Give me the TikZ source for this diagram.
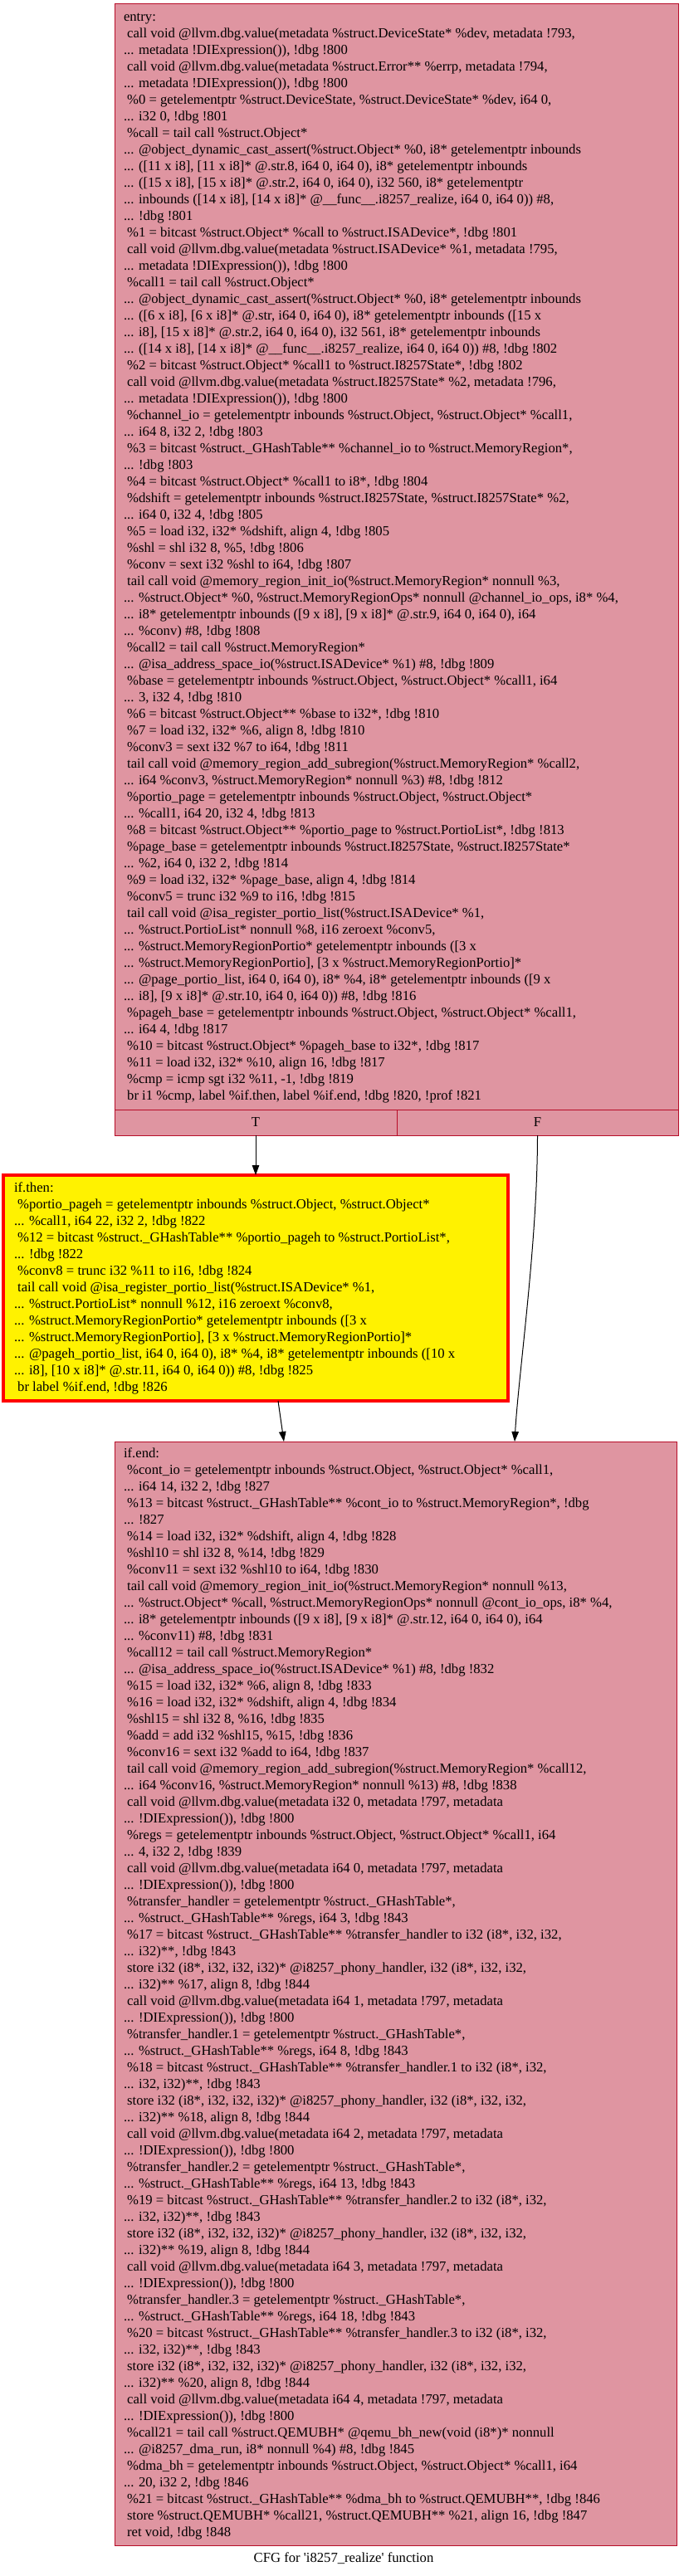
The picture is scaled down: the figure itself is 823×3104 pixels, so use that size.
\documentclass[tikz,border=0pt]{standalone}
\usepackage{fontspec}
\setmainfont{Liberation Serif}[Ligatures=TeXOff]
\usetikzlibrary{arrows.meta}
\definecolor{blkfill}{HTML}{DF95A1}
\definecolor{blkline}{HTML}{B70D28}
\newcommand\blocktext[2]{\makebox[#1][l]{\begin{tabular}{@{}l@{}}#2\end{tabular}}}
\tikzset{
  codefont/.style={font=\fontsize{16.67}{20}\selectfont},
  blk/.style={draw=blkline, fill=blkfill, line width=1pt, anchor=north west,
    inner sep=0pt, outer sep=0pt, codefont},
  thenblk/.style={draw=red, fill=yellow, line width=3.5pt, anchor=north west,
    inner sep=0pt, outer sep=0pt, codefont},
  cell/.style={draw=blkline, fill=blkfill, line width=1pt, anchor=north west,
    inner sep=0pt, outer sep=0pt, minimum height=31pt, codefont},
  edge/.style={draw=black, line width=1pt, -{Triangle[length=12pt,width=8.5pt]}},
}
\begin{document}
\begin{tikzpicture}[x=1pt,y=1pt]
\useasboundingbox (0,0) rectangle (823,-3104);
\node[blk, minimum width=679pt, minimum height=1332pt] (entry) at (138,-5) {\blocktext{657pt}{%
entry:\\
\ call void @llvm.dbg.value(metadata \%struct.DeviceState* \%dev, metadata !793,\\
... metadata !DIExpression()), !dbg !800\\
\ call void @llvm.dbg.value(metadata \%struct.Error** \%errp, metadata !794,\\
... metadata !DIExpression()), !dbg !800\\
\ \%0 = getelementptr \%struct.DeviceState, \%struct.DeviceState* \%dev, i64 0,\\
... i32 0, !dbg !801\\
\ \%call = tail call \%struct.Object*\\
... @object\_dynamic\_cast\_assert(\%struct.Object* \%0, i8* getelementptr inbounds\\
... ([11 x i8], [11 x i8]* @.str.8, i64 0, i64 0), i8* getelementptr inbounds\\
... ([15 x i8], [15 x i8]* @.str.2, i64 0, i64 0), i32 560, i8* getelementptr\\
... inbounds ([14 x i8], [14 x i8]* @\_\_func\_\_.i8257\_realize, i64 0, i64 0)) \#8,\\
... !dbg !801\\
\ \%1 = bitcast \%struct.Object* \%call to \%struct.ISADevice*, !dbg !801\\
\ call void @llvm.dbg.value(metadata \%struct.ISADevice* \%1, metadata !795,\\
... metadata !DIExpression()), !dbg !800\\
\ \%call1 = tail call \%struct.Object*\\
... @object\_dynamic\_cast\_assert(\%struct.Object* \%0, i8* getelementptr inbounds\\
... ([6 x i8], [6 x i8]* @.str, i64 0, i64 0), i8* getelementptr inbounds ([15 x\\
... i8], [15 x i8]* @.str.2, i64 0, i64 0), i32 561, i8* getelementptr inbounds\\
... ([14 x i8], [14 x i8]* @\_\_func\_\_.i8257\_realize, i64 0, i64 0)) \#8, !dbg !802\\
\ \%2 = bitcast \%struct.Object* \%call1 to \%struct.I8257State*, !dbg !802\\
\ call void @llvm.dbg.value(metadata \%struct.I8257State* \%2, metadata !796,\\
... metadata !DIExpression()), !dbg !800\\
\ \%channel\_io = getelementptr inbounds \%struct.Object, \%struct.Object* \%call1,\\
... i64 8, i32 2, !dbg !803\\
\ \%3 = bitcast \%struct.\_GHashTable** \%channel\_io to \%struct.MemoryRegion*,\\
... !dbg !803\\
\ \%4 = bitcast \%struct.Object* \%call1 to i8*, !dbg !804\\
\ \%dshift = getelementptr inbounds \%struct.I8257State, \%struct.I8257State* \%2,\\
... i64 0, i32 4, !dbg !805\\
\ \%5 = load i32, i32* \%dshift, align 4, !dbg !805\\
\ \%shl = shl i32 8, \%5, !dbg !806\\
\ \%conv = sext i32 \%shl to i64, !dbg !807\\
\ tail call void @memory\_region\_init\_io(\%struct.MemoryRegion* nonnull \%3,\\
... \%struct.Object* \%0, \%struct.MemoryRegionOps* nonnull @channel\_io\_ops, i8* \%4,\\
... i8* getelementptr inbounds ([9 x i8], [9 x i8]* @.str.9, i64 0, i64 0), i64\\
... \%conv) \#8, !dbg !808\\
\ \%call2 = tail call \%struct.MemoryRegion*\\
... @isa\_address\_space\_io(\%struct.ISADevice* \%1) \#8, !dbg !809\\
\ \%base = getelementptr inbounds \%struct.Object, \%struct.Object* \%call1, i64\\
... 3, i32 4, !dbg !810\\
\ \%6 = bitcast \%struct.Object** \%base to i32*, !dbg !810\\
\ \%7 = load i32, i32* \%6, align 8, !dbg !810\\
\ \%conv3 = sext i32 \%7 to i64, !dbg !811\\
\ tail call void @memory\_region\_add\_subregion(\%struct.MemoryRegion* \%call2,\\
... i64 \%conv3, \%struct.MemoryRegion* nonnull \%3) \#8, !dbg !812\\
\ \%portio\_page = getelementptr inbounds \%struct.Object, \%struct.Object*\\
... \%call1, i64 20, i32 4, !dbg !813\\
\ \%8 = bitcast \%struct.Object** \%portio\_page to \%struct.PortioList*, !dbg !813\\
\ \%page\_base = getelementptr inbounds \%struct.I8257State, \%struct.I8257State*\\
... \%2, i64 0, i32 2, !dbg !814\\
\ \%9 = load i32, i32* \%page\_base, align 4, !dbg !814\\
\ \%conv5 = trunc i32 \%9 to i16, !dbg !815\\
\ tail call void @isa\_register\_portio\_list(\%struct.ISADevice* \%1,\\
... \%struct.PortioList* nonnull \%8, i16 zeroext \%conv5,\\
... \%struct.MemoryRegionPortio* getelementptr inbounds ([3 x\\
... \%struct.MemoryRegionPortio], [3 x \%struct.MemoryRegionPortio]*\\
... @page\_portio\_list, i64 0, i64 0), i8* \%4, i8* getelementptr inbounds ([9 x\\
... i8], [9 x i8]* @.str.10, i64 0, i64 0)) \#8, !dbg !816\\
\ \%pageh\_base = getelementptr inbounds \%struct.Object, \%struct.Object* \%call1,\\
... i64 4, !dbg !817\\
\ \%10 = bitcast \%struct.Object* \%pageh\_base to i32*, !dbg !817\\
\ \%11 = load i32, i32* \%10, align 16, !dbg !817\\
\ \%cmp = icmp sgt i32 \%11, -1, !dbg !819\\
\ br i1 \%cmp, label \%if.then, label \%if.end, !dbg !820, !prof !821}};
\node[cell, minimum width=340pt] (T) at (138,-1337) {T};
\node[cell, minimum width=339pt] (F) at (478,-1337) {F};
\node[thenblk, minimum width=608pt, minimum height=272pt] (ifthen) at (4,-1416) {\blocktext{582pt}{%
if.then:\\
\ \%portio\_pageh = getelementptr inbounds \%struct.Object, \%struct.Object*\\
... \%call1, i64 22, i32 2, !dbg !822\\
\ \%12 = bitcast \%struct.\_GHashTable** \%portio\_pageh to \%struct.PortioList*,\\
... !dbg !822\\
\ \%conv8 = trunc i32 \%11 to i16, !dbg !824\\
\ tail call void @isa\_register\_portio\_list(\%struct.ISADevice* \%1,\\
... \%struct.PortioList* nonnull \%12, i16 zeroext \%conv8,\\
... \%struct.MemoryRegionPortio* getelementptr inbounds ([3 x\\
... \%struct.MemoryRegionPortio], [3 x \%struct.MemoryRegionPortio]*\\
... @pageh\_portio\_list, i64 0, i64 0), i8* \%4, i8* getelementptr inbounds ([10 x\\
... i8], [10 x i8]* @.str.11, i64 0, i64 0)) \#8, !dbg !825\\
\ br label \%if.end, !dbg !826}};
\node[blk, minimum width=677pt, minimum height=1330pt] (ifend) at (138,-1737) {\blocktext{655pt}{%
if.end:\\
\ \%cont\_io = getelementptr inbounds \%struct.Object, \%struct.Object* \%call1,\\
... i64 14, i32 2, !dbg !827\\
\ \%13 = bitcast \%struct.\_GHashTable** \%cont\_io to \%struct.MemoryRegion*, !dbg\\
... !827\\
\ \%14 = load i32, i32* \%dshift, align 4, !dbg !828\\
\ \%shl10 = shl i32 8, \%14, !dbg !829\\
\ \%conv11 = sext i32 \%shl10 to i64, !dbg !830\\
\ tail call void @memory\_region\_init\_io(\%struct.MemoryRegion* nonnull \%13,\\
... \%struct.Object* \%call, \%struct.MemoryRegionOps* nonnull @cont\_io\_ops, i8* \%4,\\
... i8* getelementptr inbounds ([9 x i8], [9 x i8]* @.str.12, i64 0, i64 0), i64\\
... \%conv11) \#8, !dbg !831\\
\ \%call12 = tail call \%struct.MemoryRegion*\\
... @isa\_address\_space\_io(\%struct.ISADevice* \%1) \#8, !dbg !832\\
\ \%15 = load i32, i32* \%6, align 8, !dbg !833\\
\ \%16 = load i32, i32* \%dshift, align 4, !dbg !834\\
\ \%shl15 = shl i32 8, \%16, !dbg !835\\
\ \%add = add i32 \%shl15, \%15, !dbg !836\\
\ \%conv16 = sext i32 \%add to i64, !dbg !837\\
\ tail call void @memory\_region\_add\_subregion(\%struct.MemoryRegion* \%call12,\\
... i64 \%conv16, \%struct.MemoryRegion* nonnull \%13) \#8, !dbg !838\\
\ call void @llvm.dbg.value(metadata i32 0, metadata !797, metadata\\
... !DIExpression()), !dbg !800\\
\ \%regs = getelementptr inbounds \%struct.Object, \%struct.Object* \%call1, i64\\
... 4, i32 2, !dbg !839\\
\ call void @llvm.dbg.value(metadata i64 0, metadata !797, metadata\\
... !DIExpression()), !dbg !800\\
\ \%transfer\_handler = getelementptr \%struct.\_GHashTable*,\\
... \%struct.\_GHashTable** \%regs, i64 3, !dbg !843\\
\ \%17 = bitcast \%struct.\_GHashTable** \%transfer\_handler to i32 (i8*, i32, i32,\\
... i32)**, !dbg !843\\
\ store i32 (i8*, i32, i32, i32)* @i8257\_phony\_handler, i32 (i8*, i32, i32,\\
... i32)** \%17, align 8, !dbg !844\\
\ call void @llvm.dbg.value(metadata i64 1, metadata !797, metadata\\
... !DIExpression()), !dbg !800\\
\ \%transfer\_handler.1 = getelementptr \%struct.\_GHashTable*,\\
... \%struct.\_GHashTable** \%regs, i64 8, !dbg !843\\
\ \%18 = bitcast \%struct.\_GHashTable** \%transfer\_handler.1 to i32 (i8*, i32,\\
... i32, i32)**, !dbg !843\\
\ store i32 (i8*, i32, i32, i32)* @i8257\_phony\_handler, i32 (i8*, i32, i32,\\
... i32)** \%18, align 8, !dbg !844\\
\ call void @llvm.dbg.value(metadata i64 2, metadata !797, metadata\\
... !DIExpression()), !dbg !800\\
\ \%transfer\_handler.2 = getelementptr \%struct.\_GHashTable*,\\
... \%struct.\_GHashTable** \%regs, i64 13, !dbg !843\\
\ \%19 = bitcast \%struct.\_GHashTable** \%transfer\_handler.2 to i32 (i8*, i32,\\
... i32, i32)**, !dbg !843\\
\ store i32 (i8*, i32, i32, i32)* @i8257\_phony\_handler, i32 (i8*, i32, i32,\\
... i32)** \%19, align 8, !dbg !844\\
\ call void @llvm.dbg.value(metadata i64 3, metadata !797, metadata\\
... !DIExpression()), !dbg !800\\
\ \%transfer\_handler.3 = getelementptr \%struct.\_GHashTable*,\\
... \%struct.\_GHashTable** \%regs, i64 18, !dbg !843\\
\ \%20 = bitcast \%struct.\_GHashTable** \%transfer\_handler.3 to i32 (i8*, i32,\\
... i32, i32)**, !dbg !843\\
\ store i32 (i8*, i32, i32, i32)* @i8257\_phony\_handler, i32 (i8*, i32, i32,\\
... i32)** \%20, align 8, !dbg !844\\
\ call void @llvm.dbg.value(metadata i64 4, metadata !797, metadata\\
... !DIExpression()), !dbg !800\\
\ \%call21 = tail call \%struct.QEMUBH* @qemu\_bh\_new(void (i8*)* nonnull\\
... @i8257\_dma\_run, i8* nonnull \%4) \#8, !dbg !845\\
\ \%dma\_bh = getelementptr inbounds \%struct.Object, \%struct.Object* \%call1, i64\\
... 20, i32 2, !dbg !846\\
\ \%21 = bitcast \%struct.\_GHashTable** \%dma\_bh to \%struct.QEMUBH**, !dbg !846\\
\ store \%struct.QEMUBH* \%call21, \%struct.QEMUBH** \%21, align 16, !dbg !847\\
\ ret void, !dbg !848}};
\node[codefont] (caption) at (414,-3083) {CFG for 'i8257\_realize' function};
\draw[edge] (T.south) -- (ifthen.north);
\draw[edge] (F.south) .. controls ([yshift=-130pt]F.south) and ([xshift=148pt,yshift=80pt]ifend.north) .. ([xshift=143.5pt]ifend.north);
\draw[edge] ([xshift=27pt]ifthen.south) -- ([xshift=-134.5pt]ifend.north);
\end{tikzpicture}
\end{document}
